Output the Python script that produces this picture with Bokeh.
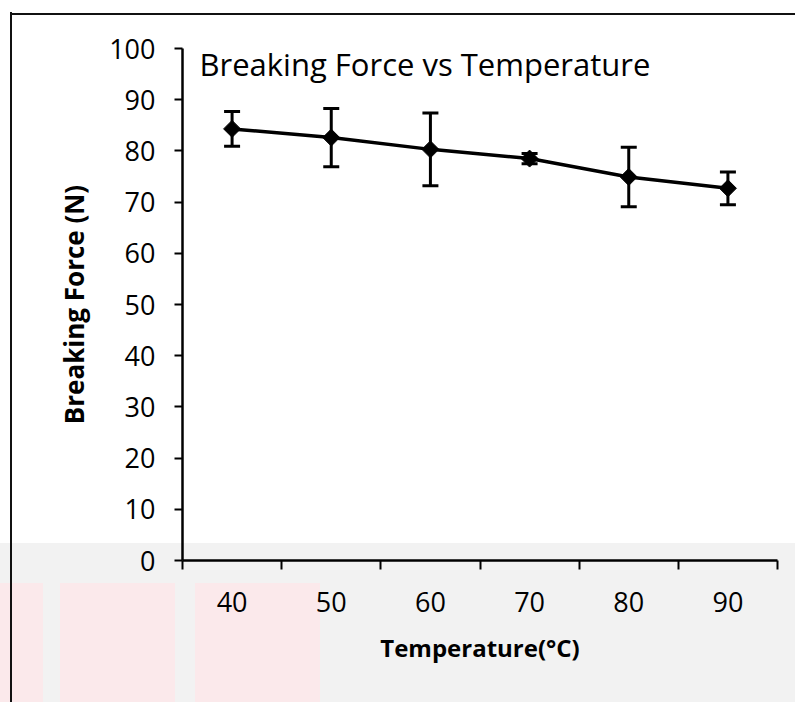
from bokeh.plotting import figure
from bokeh.models import ColumnDataSource, Whisker, TeeHead, FixedTicker, Label, Range1d
from bokeh.embed import file_html
from bokeh.resources import INLINE

temperature = [40, 50, 60, 70, 80, 90]
breaking_force = [84.3, 82.6, 80.3, 78.5, 74.9, 72.7]
force_error = [3.4, 5.7, 7.1, 1.0, 5.8, 3.2]
y_ticks = [0, 10, 20, 30, 40, 50, 60, 70, 80, 90, 100]
x_boundaries = [35, 45, 55, 65, 75, 85, 95]

title_text = "Breaking Force vs Temperature"
x_label = "Temperature(\u00b0C)"
y_label = "Breaking Force (N)"

FONT = "Open Sans"

upper = [f + e for f, e in zip(breaking_force, force_error)]
lower = [f - e for f, e in zip(breaking_force, force_error)]
src = ColumnDataSource(dict(x=temperature, y=breaking_force, upper=upper, lower=lower))

p = figure(width=795, height=702, output_backend="svg", toolbar_location=None,
           x_range=Range1d(35, 95), y_range=Range1d(0, 100))
p.min_border_left = 182
p.min_border_right = 18
p.min_border_top = 48
p.min_border_bottom = 142
p.border_fill_color = None
p.background_fill_color = None
p.outline_line_color = None
p.grid.visible = False
pink = "#fbe9eb"
p.styles = {
    "background-image": ", ".join([
        "linear-gradient(#111,#111)",
        "linear-gradient(#111,#111)",
        f"linear-gradient({pink},{pink})",
        f"linear-gradient({pink},{pink})",
        f"linear-gradient({pink},{pink})",
        "linear-gradient(to bottom, #ffffff 543px, #f2f2f2 543px)",
    ]),
    "background-size": "2px 692px, 790px 2px, 43px 120px, 115px 120px, 125px 120px, 100% 100%",
    "background-position": "10px 12px, 10px 13px, 0px 583px, 60px 583px, 195px 583px, 0 0",
    "background-repeat": "no-repeat",
}

# axes
xa = p.xaxis[0]
xa.ticker = FixedTicker(ticks=temperature, minor_ticks=x_boundaries)
xa.major_tick_out = 0
xa.major_tick_in = 0
xa.minor_tick_out = 9
xa.minor_tick_in = 0
xa.minor_tick_line_width = 2
xa.minor_tick_line_color = "black"
xa.axis_line_width = 2.5
xa.axis_line_color = "black"
xa.major_label_standoff = 22
xa.major_label_text_font = FONT
xa.major_label_text_font_size = "27px"
xa.major_label_text_color = "black"
xa.axis_label = x_label
xa.axis_label_text_font = FONT
xa.axis_label_text_font_size = "24px"
xa.axis_label_text_font_style = "bold"
xa.axis_label_text_color = "black"
xa.axis_label_standoff = 16

ya = p.yaxis[0]
ya.ticker = FixedTicker(ticks=y_ticks, minor_ticks=[])
ya.major_tick_out = 8
ya.major_tick_in = 0
ya.major_tick_line_width = 2
ya.major_tick_line_color = "black"
ya.minor_tick_out = 0
ya.minor_tick_in = 0
ya.axis_line_width = 2.5
ya.axis_line_color = "black"
ya.major_label_standoff = 19
ya.major_label_text_font = FONT
ya.major_label_text_font_size = "27px"
ya.major_label_text_color = "black"
ya.axis_label = y_label
ya.axis_label_text_font = FONT
ya.axis_label_text_font_size = "26px"
ya.axis_label_text_font_style = "bold"
ya.axis_label_text_color = "black"
ya.axis_label_standoff = 14

# error bars
w = Whisker(source=src, base="x", upper="upper", lower="lower",
            line_color="black", line_width=3,
            upper_head=TeeHead(size=16, line_width=3, line_color="black"),
            lower_head=TeeHead(size=16, line_width=3, line_color="black"))
p.add_layout(w)

p.line("x", "y", source=src, line_color="black", line_width=3.5)
p.scatter("x", "y", source=src, marker="square", angle=0.785398, size=12,
          fill_color="black", line_color="black")

title = Label(x=35, y=100, x_offset=17, y_offset=6, text=title_text,
              text_baseline="top", text_font=FONT, text_font_size="31px",
              text_color="black")
p.add_layout(title)

open("out.html", "w").write(file_html(p, INLINE))
